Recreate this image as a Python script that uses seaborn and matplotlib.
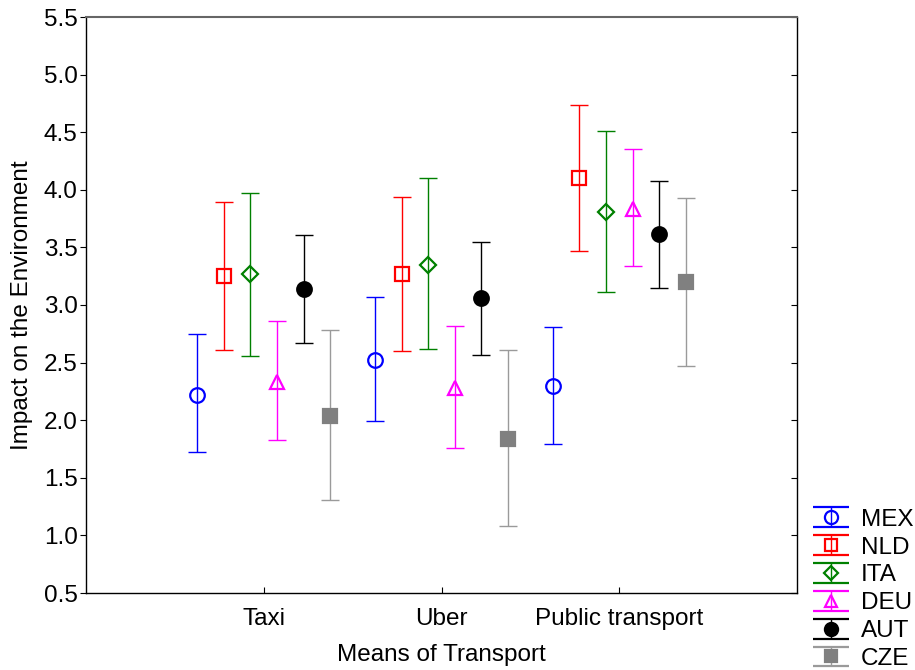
import numpy as np
import pandas as pd
import matplotlib
matplotlib.use("Agg")
import matplotlib.pyplot as plt
import seaborn as sns
from matplotlib.container import ErrorbarContainer
from matplotlib.legend_handler import HandlerErrorbar

# ---------------- data ----------------
categories = ["Taxi", "Uber", "Public transport"]
countries = ["MEX", "NLD", "ITA", "DEU", "AUT", "CZE"]

mex_mean = [2.22, 2.52, 2.30]
mex_low = [1.72, 1.99, 1.79]
mex_high = [2.75, 3.07, 2.81]

nld_mean = [3.25, 3.27, 4.10]
nld_low = [2.61, 2.60, 3.47]
nld_high = [3.89, 3.94, 4.74]

ita_mean = [3.27, 3.35, 3.81]
ita_low = [2.56, 2.62, 3.11]
ita_high = [3.97, 4.10, 4.51]

deu_mean = [2.33, 2.28, 3.83]
deu_low = [1.83, 1.76, 3.34]
deu_high = [2.86, 2.82, 4.35]

aut_mean = [3.14, 3.06, 3.62]
aut_low = [2.67, 2.57, 3.15]
aut_high = [3.61, 3.55, 4.08]

cze_mean = [2.04, 1.84, 3.20]
cze_low = [1.31, 1.08, 2.47]
cze_high = [2.78, 2.61, 3.93]

means = [mex_mean, nld_mean, ita_mean, deu_mean, aut_mean, cze_mean]
lows = [mex_low, nld_low, ita_low, deu_low, aut_low, cze_low]
highs = [mex_high, nld_high, ita_high, deu_high, aut_high, cze_high]

rows = []
for c, m, lo, hi in zip(countries, means, lows, highs):
    for k, cat in enumerate(categories):
        rows.append(dict(country=c, transport=cat, mean=m[k], low=lo[k], high=hi[k]))
df = pd.DataFrame(rows)

# ---------------- style ----------------
sns.set_theme(style="ticks")
plt.rcParams["font.family"] = ["Liberation Sans", "DejaVu Sans"]
plt.rcParams["text.color"] = "black"
plt.rcParams["axes.labelcolor"] = "black"
plt.rcParams["xtick.color"] = "black"
plt.rcParams["ytick.color"] = "black"
FS = 17.5

styles = {
    "MEX": dict(marker="o", ms=10.5, color="#0000ff", ecolor="#0000ff", mfc="none"),
    "NLD": dict(marker="s", ms=10, color="#ff0000", ecolor="#ff0000", mfc="none"),
    "ITA": dict(marker="D", ms=8, color="#008000", ecolor="#008000", mfc="none"),
    "DEU": dict(marker="^", ms=10, color="#ff00ff", ecolor="#ff00ff", mfc="none"),
    "AUT": dict(marker="o", ms=10.5, color="#000000", ecolor="#000000", mfc="#000000"),
    "CZE": dict(marker="s", ms=10, color="#808080", ecolor="#9a9a9a", mfc="#808080"),
}

fig = plt.figure(figsize=(9.15, 6.7), dpi=100)
ax = fig.add_axes([86 / 915, 1 - 593 / 670, (797 - 86) / 915, (593 - 17) / 670])

step = 0.15
offsets = (np.arange(len(countries)) - (len(countries) - 1) / 2) * step
xbase = np.arange(len(categories))

handles = []
for i, c in enumerate(countries):
    sub = df[df.country == c].set_index("transport").loc[categories]
    x = xbase + offsets[i]
    m = sub["mean"].to_numpy()
    yerr = [m - sub["low"].to_numpy(), sub["high"].to_numpy() - m]
    st = styles[c]
    ax.errorbar(x, m, yerr=yerr, fmt="none", ecolor=st["ecolor"], elinewidth=1.0,
                capsize=6.5, capthick=1.0, zorder=2)
    ax.plot(x, m, linestyle="none", marker=st["marker"], ms=st["ms"],
            mfc=st["mfc"], mec=st["color"], mew=1.6, zorder=3)
    # legend proxy
    h = ax.errorbar([np.nan], [np.nan], yerr=[[1], [1]], fmt=st["marker"], ms=st["ms"] * 0.9,
                    mfc=st["mfc"], mec=st["color"], mew=1.6, ecolor=st["ecolor"],
                    elinewidth=1.0, capsize=13.3, capthick=1.0, label=c)
    handles.append(h)

ax.set_xlim(-1, 3)
ax.set_ylim(0.5, 5.5)
ax.set_xticks(xbase)
ax.set_xticklabels(categories, fontsize=FS)
yt = np.arange(0.5, 5.51, 0.5)
ax.set_yticks(yt)
ax.set_yticklabels([f"{v:.1f}" for v in yt], fontsize=FS)
ax.tick_params(axis="x", direction="in", length=4, width=0.8, pad=11)
ax.tick_params(axis="y", direction="out", length=4, width=0.8, pad=2, left=True, right=True)
ax.yaxis.set_ticks_position("both")
for sp in ax.spines.values():
    sp.set_visible(True)
    sp.set_linewidth(1.0)
    sp.set_color("#000000")
ax.spines["top"].set_color("#666666")
ax.spines["top"].set_linewidth(1.5)

# right ticks inward
for t in ax.yaxis.get_major_ticks():
    t.tick2line.set_marker(matplotlib.lines.TICKLEFT)

ax.set_xlabel("Means of Transport", fontsize=FS, labelpad=10)
ax.set_ylabel("Impact on the Environment", fontsize=FS, labelpad=8)

fig.legend(handles=handles, labels=countries, loc="lower left",
           bbox_to_anchor=(813 / 915, 0), frameon=False, fontsize=FS,
           borderpad=0, borderaxespad=0, handlelength=1.52, handletextpad=0.45,
           labelspacing=0.24, numpoints=1,
           handler_map={ErrorbarContainer: HandlerErrorbar(yerr_size=0.41)})

fig.savefig("out.png", dpi=100)
